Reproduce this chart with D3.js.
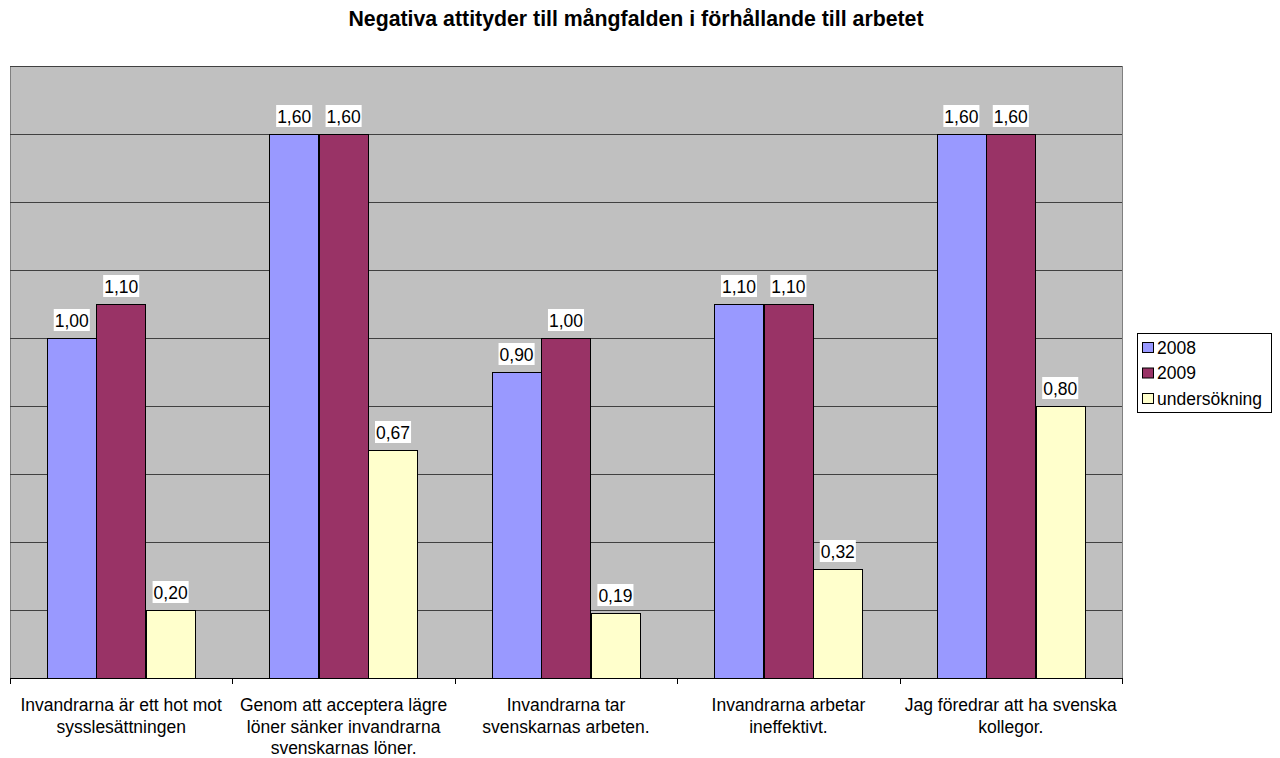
<!DOCTYPE html>
<html><head><meta charset="utf-8">
<script src="https://cdn.jsdelivr.net/npm/d3@7/dist/d3.min.js"></script>
<style>body{margin:0;background:#fff;}svg{display:block;font-family:"Liberation Sans",Arial,sans-serif;}</style>
</head><body>
<svg id="c" width="1280" height="758"></svg>
<script>
const title = "Negativa attityder till mångfalden i förhållande till arbetet";
const categories = [
  ["Invandrarna är ett hot mot", "sysslesättningen"],
  ["Genom att acceptera lägre", "löner sänker invandrarna", "svenskarnas löner."],
  ["Invandrarna tar", "svenskarnas arbeten."],
  ["Invandrarna arbetar", "ineffektivt."],
  ["Jag föredrar att ha svenska", "kollegor."]
];
const seriesNames = ["2008", "2009", "undersökning"];
const values2008 = [1.00, 1.60, 0.90, 1.10, 1.60];
const values2009 = [1.10, 1.60, 1.00, 1.10, 1.60];
const valuesUnd = [0.20, 0.67, 0.19, 0.32, 0.80];
const gridTicks = [0, 0.2, 0.4, 0.6, 0.8, 1.0, 1.2, 1.4, 1.6, 1.8];
const colors = ["#9999FF", "#993366", "#FFFFCC"];

const series = [values2008, values2009, valuesUnd];
const svg = d3.select("#c");
const L = 10, R = 1122, T = 66, B = 678;
const FS = 17.5;

svg.append("text").attr("x", 636).attr("y", 26).attr("text-anchor", "middle")
  .attr("font-size", 21.3).attr("font-weight", "bold").text(title);

const x = d3.scaleBand().domain(d3.range(categories.length)).range([L, R]).paddingInner(0).paddingOuter(0);
const y = d3.scaleLinear().domain([0, 1.8]).range([B, T]);
const bw = x.bandwidth();
const barW = bw / 4.5;
const groupOff = (bw - 3 * barW) / 2;

svg.append("rect").attr("x", L + 0.5).attr("y", T + 0.5).attr("width", R - L).attr("height", B - T)
  .attr("fill", "#C0C0C0").attr("stroke", "#808080").attr("stroke-width", 1);

svg.append("g").selectAll("line").data(gridTicks.slice(1)).join("line")
  .attr("x1", L).attr("x2", R)
  .attr("y1", d => Math.round(y(d)) + 0.5).attr("y2", d => Math.round(y(d)) + 0.5)
  .attr("stroke", "#404040").attr("stroke-width", 1);

const g = svg.append("g");
series.forEach((vals, si) => {
  g.selectAll(null).data(vals).join("rect")
    .attr("x", (d, i) => Math.round(x(i) + groupOff + si * barW) + 0.5)
    .attr("y", d => Math.round(y(d)) + 0.5)
    .attr("width", Math.round(barW))
    .attr("height", d => Math.round(B - y(d)))
    .attr("fill", colors[si]).attr("stroke", "#000").attr("stroke-width", 1);
});

const fmt = d => d.toFixed(2).replace(".", ",");
series.forEach((vals, si) => {
  vals.forEach((d, i) => {
    const cx = x(i) + groupOff + si * barW + barW / 2;
    const top = Math.round(y(d));
    const lg = svg.append("g");
    const bg = lg.append("rect").attr("fill", "#fff");
    const t = lg.append("text").attr("x", cx).attr("y", top - 11).attr("text-anchor", "middle")
      .attr("font-size", FS).text(fmt(d));
    const w = t.node().getComputedTextLength() + 2;
    bg.attr("x", cx - w / 2).attr("y", top - 29).attr("width", w).attr("height", 22);
  });
});

// x axis
const ax = svg.append("g");
ax.append("line").attr("x1", L).attr("x2", R).attr("y1", B + 0.5).attr("y2", B + 0.5).attr("stroke", "#000");
ax.selectAll(".tk").data(d3.range(categories.length + 1)).join("line")
  .attr("x1", i => Math.round(L + i * bw) + 0.5).attr("x2", i => Math.round(L + i * bw) + 0.5)
  .attr("y1", B).attr("y2", B + 6).attr("stroke", "#000");
categories.forEach((lines, i) => {
  const t = ax.append("text").attr("text-anchor", "middle").attr("font-size", FS);
  lines.forEach((ln, k) => t.append("tspan").attr("x", x(i) + bw / 2).attr("y", 711 + k * 21.7).text(ln));
});

// legend
const lgd = svg.append("g");
lgd.append("rect").attr("x", 1137.5).attr("y", 333.5).attr("width", 134).attr("height", 79)
  .attr("fill", "#fff").attr("stroke", "#000");
seriesNames.forEach((n, i) => {
  const yy = 348 + i * 25.5;
  lgd.append("rect").attr("x", 1142.5).attr("y", yy - 5.5).attr("width", 11).attr("height", 10)
    .attr("fill", colors[i]).attr("stroke", "#000");
  lgd.append("text").attr("x", 1157).attr("y", yy + 5.5).attr("font-size", FS).text(n);
});
</script>
</body></html>
